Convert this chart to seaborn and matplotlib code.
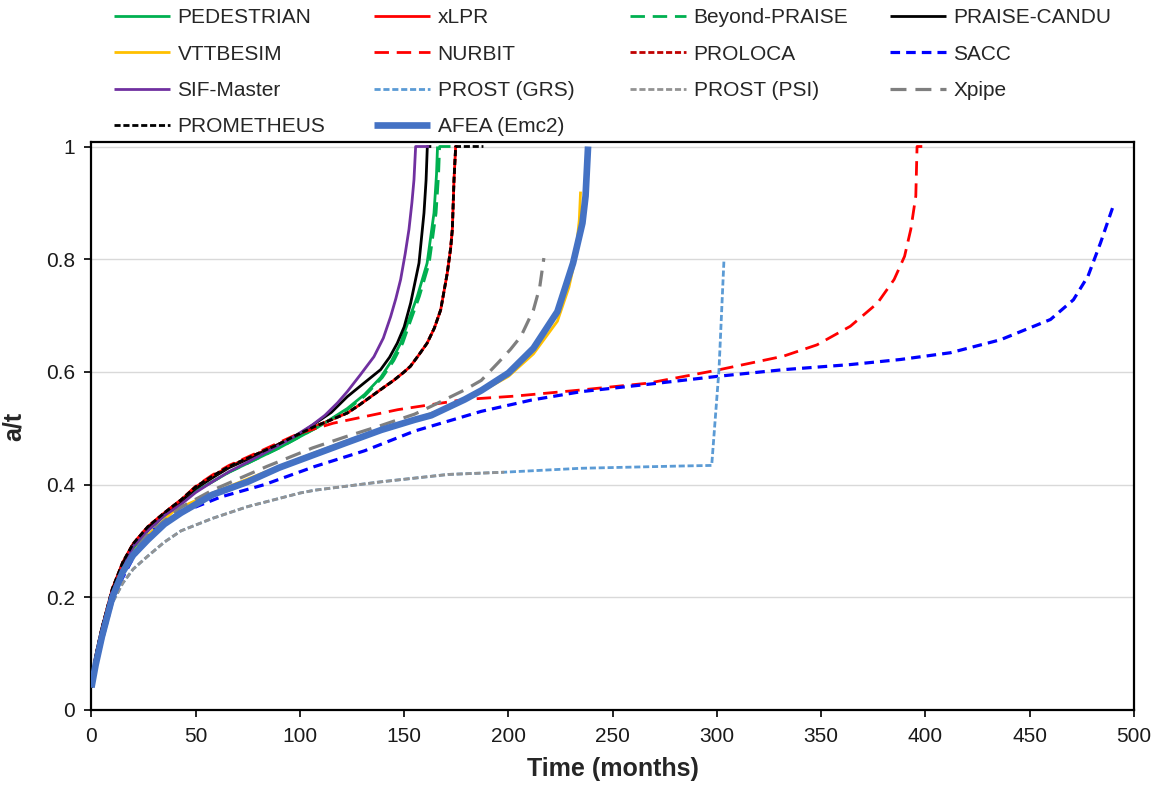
import matplotlib
matplotlib.use("Agg")
import matplotlib.pyplot as plt
import seaborn as sns

# ---- crack growth curves: time (months) vs relative depth a/t ----
pedestrian_t = [0, 2, 5, 10, 15, 20, 27, 35, 43, 50, 58, 66, 75, 90, 100, 110, 122.7, 131, 138.7, 144, 148.3, 152, 156.3, 161, 164.3, 165.5, 166]
pedestrian_y = [0.04, 0.09, 0.14, 0.205, 0.25, 0.285, 0.318, 0.345, 0.368, 0.388, 0.405, 0.422, 0.438, 0.465, 0.485, 0.505, 0.535, 0.56, 0.59, 0.62, 0.651, 0.69, 0.734, 0.793, 0.882, 0.95, 1.0]

xlpr_t = [0, 2, 5, 10, 15, 20, 27, 35, 43, 50, 58, 66, 75, 90, 99, 107, 115, 122.7, 128, 134, 140, 145, 150, 153, 157, 161, 164.5, 167.5, 170.7, 172.3, 173.1, 173.9, 174.7, 175.5]
xlpr_y = [0.04, 0.095, 0.145, 0.215, 0.262, 0.295, 0.325, 0.35, 0.373, 0.396, 0.415, 0.432, 0.447, 0.472, 0.489, 0.503, 0.515, 0.527, 0.54, 0.556, 0.572, 0.585, 0.6, 0.61, 0.63, 0.651, 0.678, 0.71, 0.776, 0.82, 0.853, 0.941, 1.0, 1.0]

beyond_t = [0, 2, 5, 10, 15, 20, 27, 35, 43, 50, 58, 66, 75, 90, 100, 110, 122.7, 131, 139.5, 145, 149.3, 153, 157.3, 162, 165.3, 166.5, 167, 174]
beyond_y = [0.04, 0.09, 0.14, 0.205, 0.25, 0.285, 0.318, 0.345, 0.368, 0.388, 0.405, 0.422, 0.438, 0.465, 0.485, 0.505, 0.533, 0.557, 0.59, 0.62, 0.651, 0.69, 0.734, 0.793, 0.882, 0.95, 1.0, 1.0]

candu_t = [0, 2, 5, 10, 15, 20, 27, 35, 43, 50, 58, 66, 75, 90, 100, 107, 115, 122.7, 130, 138.7, 143, 146.7, 150, 153.1, 157.1, 159.5, 160.5, 161.1, 163]
candu_y = [0.04, 0.095, 0.145, 0.212, 0.26, 0.293, 0.323, 0.348, 0.37, 0.393, 0.412, 0.43, 0.445, 0.472, 0.49, 0.508, 0.528, 0.556, 0.578, 0.604, 0.626, 0.651, 0.68, 0.722, 0.793, 0.882, 0.94, 1.0, 1.0]

vtt_t = [0, 5, 10, 20, 27, 40, 58, 75, 90, 106, 122, 139, 155, 171, 187, 200, 212, 223.5, 229, 232, 234, 234.6]
vtt_y = [0.04, 0.13, 0.2, 0.28, 0.31, 0.355, 0.385, 0.41, 0.432, 0.455, 0.477, 0.498, 0.516, 0.537, 0.565, 0.592, 0.632, 0.69, 0.75, 0.8, 0.87, 0.92]

nurbit_t = [0, 2, 5, 10, 15, 20, 27, 35, 43, 50, 58, 66, 75, 99, 116, 147, 179, 203, 235, 267, 300, 332, 348, 364, 377, 385, 390, 393, 395.4, 396, 398.5]
nurbit_y = [0.04, 0.09, 0.14, 0.21, 0.26, 0.295, 0.325, 0.35, 0.373, 0.397, 0.417, 0.434, 0.449, 0.49, 0.509, 0.533, 0.551, 0.557, 0.568, 0.58, 0.603, 0.628, 0.648, 0.681, 0.722, 0.764, 0.805, 0.853, 0.912, 1.0, 1.0]

proloca_t = [0, 2, 5, 10, 15, 20, 27, 35, 43, 50, 58, 66, 75, 90, 99, 107, 115, 122.7, 128, 134, 140, 145, 150, 153, 157, 161, 164.5, 167.5, 170.7, 172.3, 173.1, 173.9, 174.7, 175.5]
proloca_y = [0.04, 0.095, 0.145, 0.215, 0.262, 0.295, 0.325, 0.35, 0.373, 0.396, 0.415, 0.432, 0.447, 0.472, 0.489, 0.503, 0.515, 0.527, 0.54, 0.556, 0.572, 0.585, 0.6, 0.61, 0.63, 0.651, 0.678, 0.71, 0.776, 0.82, 0.853, 0.941, 1.0, 1.0]

sacc_t = [0, 5, 10, 20, 30, 43, 62, 83, 107, 131, 155, 187, 211, 235, 267, 300, 332, 364, 388, 412, 436, 460, 471, 478, 484, 490.6]
sacc_y = [0.04, 0.13, 0.2, 0.27, 0.32, 0.35, 0.378, 0.40, 0.432, 0.46, 0.495, 0.53, 0.55, 0.565, 0.578, 0.592, 0.604, 0.613, 0.622, 0.634, 0.657, 0.693, 0.728, 0.77, 0.829, 0.9]

sif_t = [0, 5, 10, 20, 27, 35, 43, 50, 58, 66, 75, 90, 95, 100, 106, 112, 118, 122.7, 129, 135.5, 140, 143.5, 146, 148.3, 150.5, 152.3, 153.7, 154.7, 155.5, 162]
sif_y = [0.04, 0.14, 0.21, 0.29, 0.318, 0.345, 0.365, 0.386, 0.405, 0.423, 0.44, 0.47, 0.48, 0.492, 0.506, 0.523, 0.545, 0.565, 0.595, 0.627, 0.66, 0.698, 0.73, 0.764, 0.81, 0.853, 0.9, 0.941, 1.0, 1.0]

grs_t = [0, 5, 10, 15, 20, 27, 35, 43, 58, 75, 100, 107, 139, 171, 198, 235, 283, 297.5, 301, 303.4]
grs_y = [0.04, 0.12, 0.19, 0.225, 0.25, 0.273, 0.298, 0.318, 0.34, 0.361, 0.385, 0.39, 0.405, 0.418, 0.422, 0.429, 0.433, 0.434, 0.604, 0.8]

psi_t = [0, 5, 10, 15, 20, 27, 35, 43, 58, 75, 100, 107, 139, 171, 198]
psi_y = [0.04, 0.12, 0.19, 0.225, 0.25, 0.273, 0.298, 0.318, 0.34, 0.361, 0.385, 0.39, 0.405, 0.418, 0.422]

xpipe_t = [0, 5, 10, 20, 27, 43, 58, 84, 106, 122, 139, 155, 163, 179, 187, 195, 201, 206, 212, 215, 217]
xpipe_y = [0.04, 0.13, 0.2, 0.28, 0.312, 0.36, 0.39, 0.432, 0.465, 0.485, 0.505, 0.525, 0.539, 0.568, 0.585, 0.616, 0.64, 0.663, 0.71, 0.75, 0.802]

prometheus_t = [0, 2, 5, 10, 15, 20, 27, 35, 43, 50, 58, 66, 75, 90, 99, 107, 115, 122.7, 128, 134, 140, 145, 150, 153, 157, 161, 164.5, 167.5, 170.7, 172.3, 173.1, 173.9, 174.7, 188]
prometheus_y = [0.04, 0.095, 0.145, 0.215, 0.262, 0.295, 0.325, 0.35, 0.373, 0.396, 0.415, 0.432, 0.447, 0.472, 0.489, 0.503, 0.515, 0.527, 0.54, 0.556, 0.572, 0.585, 0.6, 0.61, 0.63, 0.651, 0.678, 0.71, 0.776, 0.82, 0.853, 0.941, 1.0, 1.0]

afea_t = [0, 2, 5, 10, 15, 20, 27, 35, 43, 58, 75, 90, 106, 122, 139, 155, 163, 171, 179, 187, 200, 212, 223.5, 231, 235.5, 237, 238.2]
afea_y = [0.04, 0.08, 0.13, 0.2, 0.245, 0.275, 0.302, 0.33, 0.35, 0.382, 0.405, 0.43, 0.452, 0.474, 0.497, 0.515, 0.523, 0.537, 0.551, 0.567, 0.598, 0.642, 0.707, 0.793, 0.864, 0.912, 1.0]

x_ticks = [0, 50, 100, 150, 200, 250, 300, 350, 400, 450, 500]
y_ticks = [0, 0.2, 0.4, 0.6, 0.8, 1.0]
y_tick_labels = ["0", "0.2", "0.4", "0.6", "0.8", "1"]

# label, t, y, colour, line width (pt), line style
series = [
    ("PEDESTRIAN", pedestrian_t, pedestrian_y, "#00B050", 2.0, "-"),
    ("xLPR", xlpr_t, xlpr_y, "#FF0000", 2.0, "-"),
    ("Beyond-PRAISE", beyond_t, beyond_y, "#00B050", 2.0, (0, (5.2, 2.8))),
    ("PRAISE-CANDU", candu_t, candu_y, "#000000", 2.0, "-"),
    ("VTTBESIM", vtt_t, vtt_y, "#FFC000", 2.0, "-"),
    ("NURBIT", nurbit_t, nurbit_y, "#FF0000", 2.0, (0, (5.2, 2.8))),
    ("PROLOCA", proloca_t, proloca_y, "#C00000", 2.0, (0, (2.2, 1.0))),
    ("SACC", sacc_t, sacc_y, "#0000FF", 2.3, (0, (3.0, 1.9))),
    ("SIF-Master", sif_t, sif_y, "#7030A0", 2.0, "-"),
    ("PROST (GRS)", grs_t, grs_y, "#5B9BD5", 2.0, (0, (2.2, 1.0))),
    ("PROST (PSI)", psi_t, psi_y, "#939393", 2.0, (0, (2.2, 1.0))),
    ("Xpipe", xpipe_t, xpipe_y, "#7F7F7F", 2.3, (0, (5.0, 2.8))),
    ("PROMETHEUS", prometheus_t, prometheus_y, "#000000", 2.0, (0, (2.2, 1.0))),
    ("AFEA (Emc2)", afea_t, afea_y, "#4472C4", 4.8, "-"),
]

sns.set_theme(style="white")
plt.rcParams["font.family"] = ["Liberation Sans", "DejaVu Sans"]

fig = plt.figure(figsize=(11.62, 7.88), dpi=100)
ax = fig.add_axes([0.0787, 0.0990, 0.8971, 0.7208])

handles = {}
for i, (label, t, y, color, lw, ls) in enumerate(series):
    sns.lineplot(x=t, y=y, ax=ax, color=color, linewidth=lw, linestyle=ls,
                 estimator=None, sort=False, label=label, zorder=3 + i,
                 solid_capstyle="butt", dash_capstyle="butt",
                 solid_joinstyle="round")
    handles[label] = ax.get_lines()[-1]

ax.set_xlim(0, 500)
ax.set_ylim(0, 1.008)
ax.set_xticks(x_ticks)
ax.set_yticks(y_ticks)
ax.set_yticklabels(y_tick_labels)
ax.tick_params(axis="both", which="major", direction="out", length=5, width=1.2,
               color="black", labelsize=15, pad=7, labelcolor="#1a1a1a")
ax.tick_params(axis="x", bottom=True)
ax.tick_params(axis="y", left=True)
ax.grid(axis="y", color="#D9D9D9", linewidth=1.0, zorder=0)
ax.grid(axis="x", visible=False)
for side in ["left", "bottom", "top", "right"]:
    ax.spines[side].set_visible(True)
    ax.spines[side].set_color("black")
    ax.spines[side].set_linewidth(1.6)
ax.set_axisbelow(True)

ax.set_xlabel("Time (months)", fontsize=18, fontweight="bold", labelpad=8)
ax.set_ylabel("a/t", fontsize=18, fontweight="bold", labelpad=14)

if ax.get_legend() is not None:
    ax.get_legend().remove()

# legend laid out row by row in four fixed columns
columns = [
    ["PEDESTRIAN", "VTTBESIM", "SIF-Master", "PROMETHEUS"],
    ["xLPR", "NURBIT", "PROST (GRS)", "AFEA (Emc2)"],
    ["Beyond-PRAISE", "PROLOCA", "PROST (PSI)"],
    ["PRAISE-CANDU", "SACC", "Xpipe"],
]
col_x = [114, 374, 630, 890]
for labels, x in zip(columns, col_x):
    fig.legend([handles[l] for l in labels], labels, loc="upper left",
               bbox_to_anchor=(x / 1162, 1 - 8 / 788), frameon=False,
               borderpad=0, borderaxespad=0, handlelength=2.7,
               handletextpad=0.35, labelspacing=0.84, fontsize=15)

fig.savefig("out.png", dpi=100)
